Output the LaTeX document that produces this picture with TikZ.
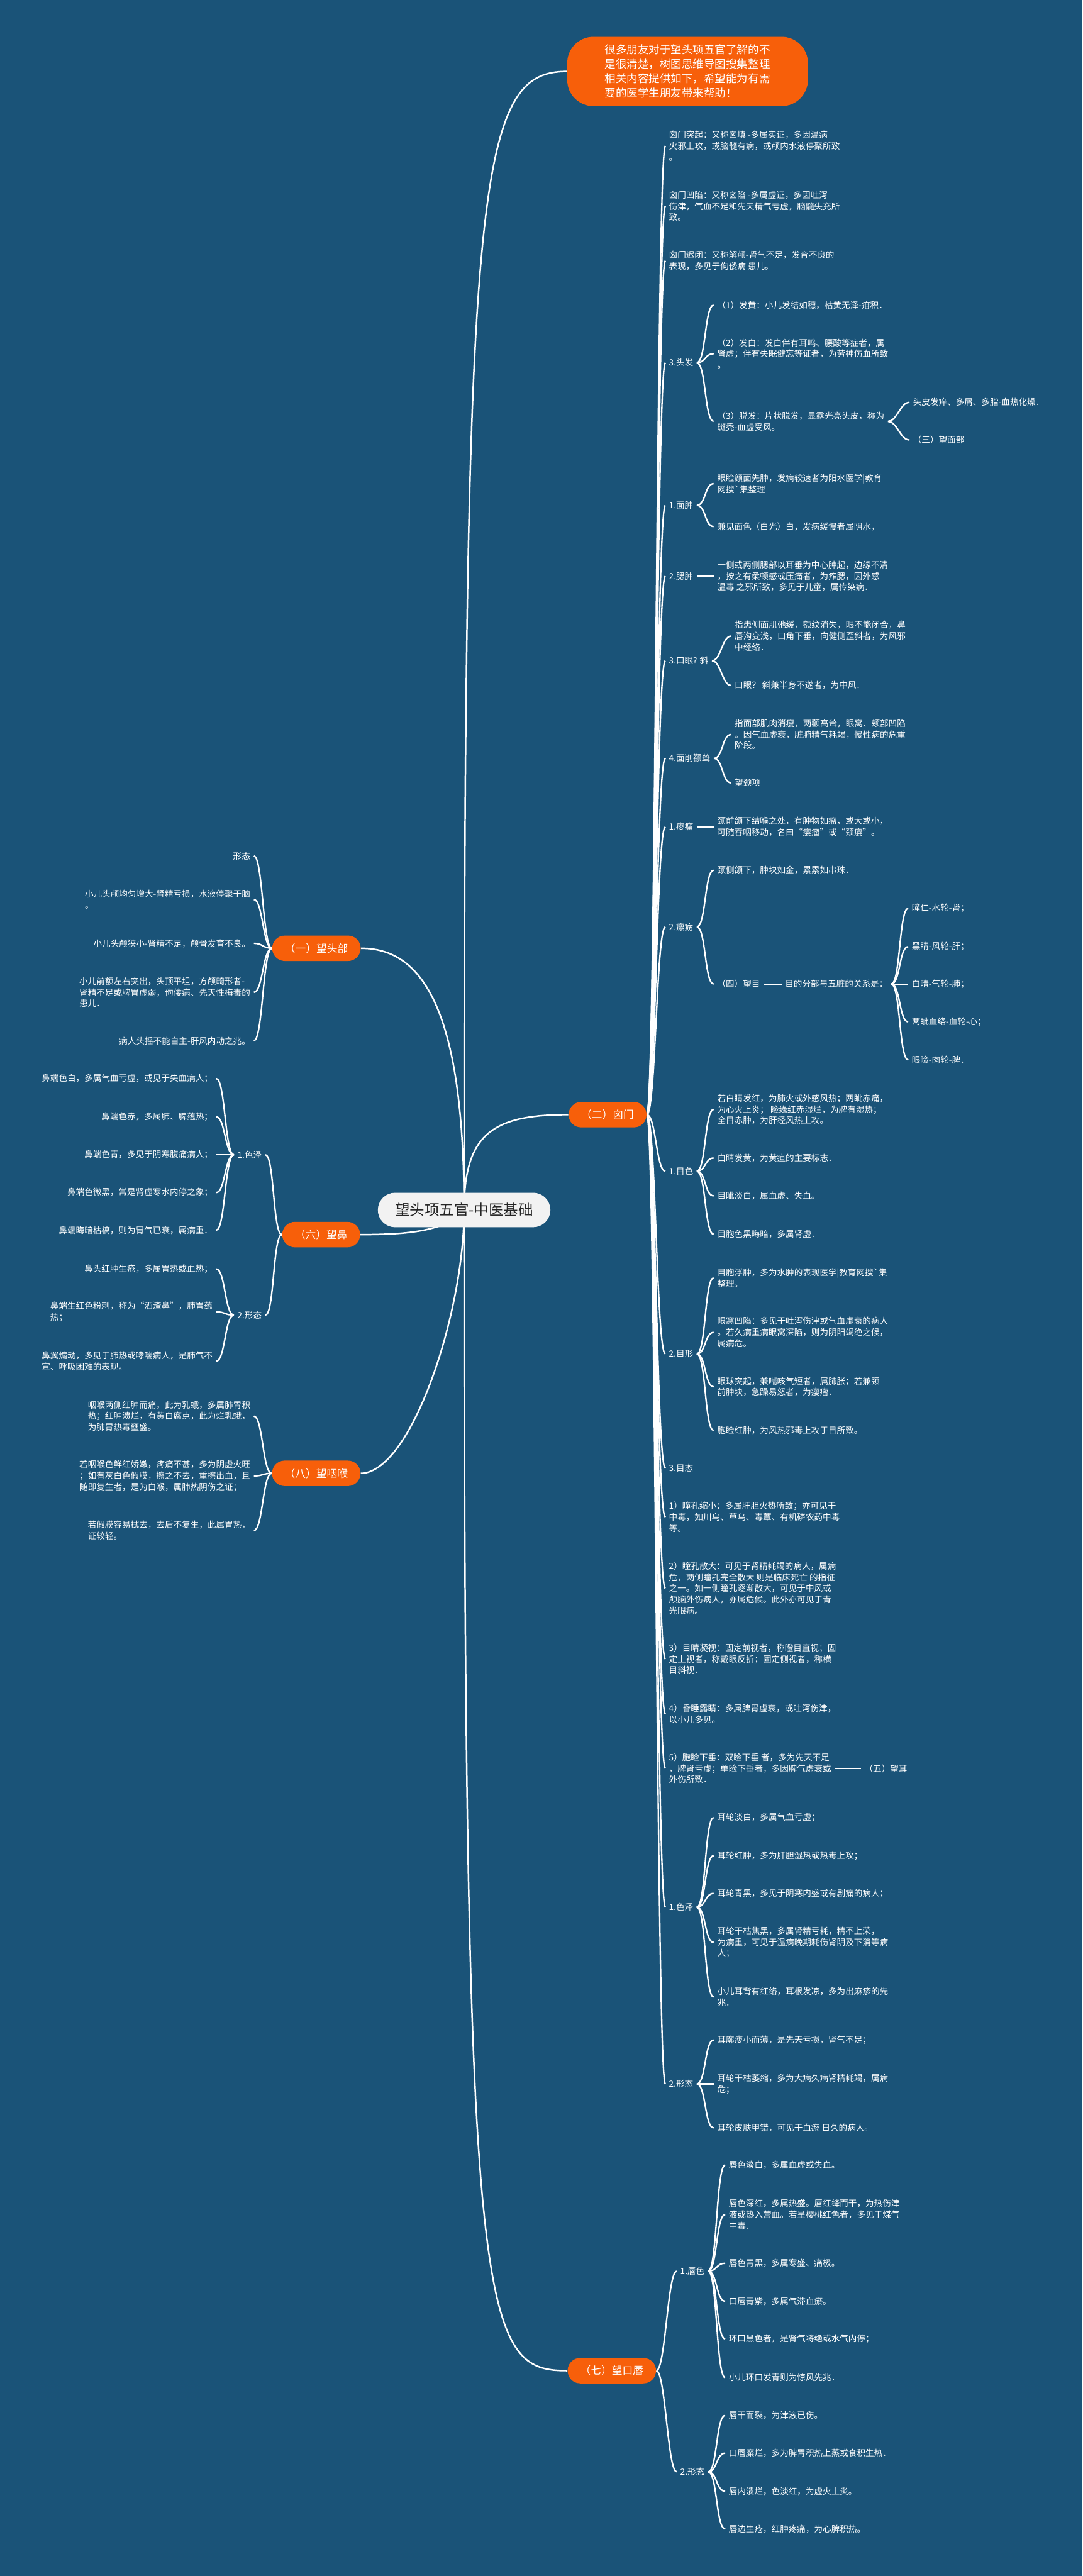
\documentclass[tikz,border=0pt]{standalone}
\usepackage{fontspec}
\newfontfamily\cjkf{Noto Sans CJK SC}
\definecolor{bgblue}{RGB}{26,83,120}
\definecolor{mmorange}{RGB}{247,95,10}
\definecolor{rootfill}{RGB}{242,242,242}
\definecolor{roottext}{RGB}{38,38,38}
\pgfdeclarelayer{bgl}
\pgfdeclarelayer{lines}
\pgfsetlayers{bgl,lines,main}
\tikzset{
  txt/.style={text=white, font=\cjkf\fontsize{5.2}{6.8}\selectfont, align=left, inner xsep=2pt, inner ysep=1pt},
  lt/.style={txt, anchor=west},
  rtx/.style={txt, anchor=east},
  topic/.style={fill=mmorange, text=white, rounded corners=7.7pt, minimum height=15.5pt, inner xsep=7.7pt, inner ysep=0pt, font=\cjkf\fontsize{6.4}{7.5}\selectfont},
  conn/.style={draw=white, line width=0.9pt},
  rconn/.style={draw=white, line width=0.95pt},
}
\newcommand\mmR[2]{\draw[conn] (#1.east) .. controls +(5.5,0) and +(-5.5,0) .. (#2.west);}
\newcommand\mmL[2]{\draw[conn] (#1.west) .. controls +(-5.5,0) and +(5.5,0) .. (#2.east);}
\newcommand\mmS[2]{\draw[conn] (#1.east) -- (#2.west);}
\begin{document}
\begin{tikzpicture}[x=1pt,y=-1pt]
\begin{pgfonlayer}{bgl}
\fill[bgblue] (0,0) rectangle (659,1568);
\end{pgfonlayer}
\useasboundingbox (0,0) rectangle (659,1568);

% root and main topics
\node[fill=rootfill, text=roottext, rounded corners=10.5pt, minimum width=105pt, minimum height=21pt, inner sep=0pt, font=\cjkf\fontsize{9}{10}\selectfont] (root) at (282.5,736.5) {望头项五官-中医基础};
\node[fill=mmorange, text=white, rounded corners=16pt, align=left, inner xsep=23pt, inner ysep=4pt, minimum height=42.2pt, font=\cjkf\fontsize{6.7}{8.85}\selectfont] (note) at (418.5,43.5) {很多朋友对于望头项五官了解的不\\是很清楚，树图思维导图搜集整理\\相关内容提供如下，希望能为有需\\要的医学生朋友带来帮助！};
\node[topic] (n1) at (192.6,577.2) {（一）望头部};
\node[topic] (n6) at (195.5,751.5) {（六）望鼻};
\node[topic] (n8) at (192.5,896.8) {（八）望咽喉};
\node[topic] (n2) at (369.8,678.5) {（二）囟门};
\node[topic] (n7) at (372.4,1443) {（七）望口唇};

% (二) children
\node[lt] (a1) at (405,88.8) {囟门突起：又称囟填 -多属实证，多因温病\\火邪上攻，或脑髓有病，或颅内水液停聚所致\\。};
\node[lt] (a2) at (405,125.5) {囟门凹陷：又称囟陷 -多属虚证，多因吐泻\\伤津，气血不足和先天精气亏虚，脑髓失充所\\致。};
\node[lt] (a3) at (405,158.7) {囟门迟闭：又称解颅-肾气不足，发育不良的\\表现，多见于佝偻病 患儿。};
\node[lt] (a4) at (405,220.8) {3.头发};
\node[lt] (a5) at (405,307.6) {1.面肿};
\node[lt] (a6) at (405,350.7) {2.腮肿};
\node[lt] (a7) at (405,402.2) {3.口眼? 斜};
\node[lt] (a8) at (405,461.6) {4.面削颧耸};
\node[lt] (a9) at (405,503.3) {1.瘿瘤};
\node[lt] (a10) at (405,564.2) {2.瘰疬};
\node[lt] (a11) at (405,712.9) {1.目色};
\node[lt] (a12) at (405,824.1) {2.目形};
\node[lt] (a13) at (405,893.7) {3.目态};
\node[lt] (a14) at (405,923.5) {1）瞳孔缩小：多属肝胆火热所致；亦可见于\\中毒，如川乌、草乌、毒蕈、有机磷农药中毒\\等。};
\node[lt] (a15) at (405,966.8) {2）瞳孔散大：可见于肾精耗竭的病人，属病\\危，两侧瞳孔完全散大 则是临床死亡 的指征\\之一。如一侧瞳孔逐渐散大，可见于中风或\\颅脑外伤病人，亦属危候。此外亦可见于青\\光眼病。};
\node[lt] (a16) at (405,1009.8) {3）目睛凝视：固定前视者，称瞪目直视；固\\定上视者，称戴眼反折；固定侧视者，称横\\目斜视．};
\node[lt] (a17) at (405,1043.2) {4）昏睡露睛：多属脾胃虚衰，或吐泻伤津，\\以小儿多见。};
\node[lt] (a18) at (405,1076.4) {5）胞睑下垂：双睑下垂 者，多为先天不足\\，脾肾亏虚；单睑下垂者，多因脾气虚衰或\\外伤所致．};
\node[lt] (a19) at (405,1160.9) {1.色泽};
\node[lt] (a20) at (405,1268.5) {2.形态};

% 3.头发
\node[lt] (b1) at (434.4,185.7) {（1）发黄：小儿发结如穗，枯黄无泽-疳积．};
\node[lt] (b2) at (434.4,215.3) {（2）发白：发白伴有耳鸣、腰酸等症者，属\\肾虚；伴有失眠健忘等证者，为劳神伤血所致\\。};
\node[lt] (b3) at (434.4,256.5) {（3）脱发：片状脱发，显露光亮头皮，称为\\斑秃-血虚受风。};
\node[lt] (c1) at (553.6,244.8) {头皮发痒、多屑、多脂-血热化燥．};
\node[lt] (c2) at (553.6,267.9) {（三）望面部};
% 1.面肿
\node[lt] (b4) at (434.4,294.4) {眼睑颜面先肿，发病较速者为阳水医学|教育\\网搜`集整理};
\node[lt] (b5) at (434.4,320.5) {兼见面色（白光）白，发病缓慢者属阴水，};
% 2.腮肿
\node[lt] (b6) at (434.4,350.7) {一侧或两侧腮部以耳垂为中心肿起，边缘不清\\，按之有柔顿感或压痛者，为痄腮，因外感\\温毒 之邪所致，多见于儿童，属传染病．};
% 3.口眼斜
\node[lt] (b7) at (445,387.2) {指患侧面肌弛缓，额纹消失，眼不能闭合，鼻\\唇沟变浅，口角下垂，向健侧歪斜者，为风邪\\中经络．};
\node[lt] (b8) at (445,417.2) {口眼？ 斜兼半身不遂者，为中风．};
% 4.面削颧耸
\node[lt] (b9) at (445,447.1) {指面部肌肉消瘦，两颧高耸，眼窝、颊部凹陷\\。因气血虚衰，脏腑精气耗竭，慢性病的危重\\阶段。};
\node[lt] (b10) at (445,476.5) {望颈项};
% 1.瘿瘤
\node[lt] (b11) at (434.4,503.3) {颈前颌下结喉之处，有肿物如瘤，或大或小，\\可随吞咽移动，名曰“瘿瘤”或“颈瘿”。};
% 2.瘰疬
\node[lt] (b12) at (434.4,529.7) {颈侧颌下，肿块如金，累累如串珠．};
\node[lt] (b13) at (434.4,599) {（四）望目};
\node[lt] (c3) at (475.7,599) {目的分部与五脏的关系是：};
\node[lt] (d1) at (552.8,552.9) {瞳仁-水轮-肾；};
\node[lt] (d2) at (552.8,576.2) {黑睛-风轮-肝；};
\node[lt] (d3) at (552.8,599) {白睛-气轮-肺；};
\node[lt] (d4) at (552.8,622) {两眦血络-血轮-心；};
\node[lt] (d5) at (552.8,645.2) {眼睑-肉轮-脾．};
% 1.目色
\node[lt] (b14) at (434.4,675.3) {若白睛发红，为肺火或外感风热；两眦赤痛，\\为心火上炎； 睑缘红赤湿烂，为脾有湿热；\\全目赤肿，为肝经风热上攻。};
\node[lt] (b15) at (434.4,704.9) {白睛发黄，为黄疸的主要标志．};
\node[lt] (b16) at (434.4,727.9) {目眦淡白，属血虚、失血。};
\node[lt] (b17) at (434.4,751.3) {目胞色黑晦暗，多属肾虚．};
% 2.目形
\node[lt] (b18) at (434.4,777.8) {目胞浮肿，多为水肿的表现医学|教育网搜`集\\整理。};
\node[lt] (b19) at (434.4,811) {眼窝凹陷：多见于吐泻伤津或气血虚衰的病人\\。若久病重病眼窝深陷，则为阴阳竭绝之候，\\属病危。};
\node[lt] (b20) at (434.4,844.1) {眼球突起，兼喘咳气短者，属肺胀；若兼颈\\前肿块，急躁易怒者，为瘿瘤．};
\node[lt] (b21) at (434.4,870.7) {胞睑红肿，为风热邪毒上攻于目所致。};
% (五)望耳
\node[lt] (c4) at (524,1076.4) {（五）望耳};
\node[lt] (b22) at (434.4,1106.3) {耳轮淡白，多属气血亏虚；};
\node[lt] (b23) at (434.4,1129.5) {耳轮红肿，多为肝胆湿热或热毒上攻；};
\node[lt] (b24) at (434.4,1152.5) {耳轮青黑，多见于阴寒内盛或有剧痛的病人；};
\node[lt] (b25) at (434.4,1182.3) {耳轮干枯焦黑，多属肾精亏耗，精不上荣，\\为病重，可见于温病晚期耗伤肾阴及下消等病\\人；};
\node[lt] (b26) at (434.4,1215.6) {小儿耳背有红络，耳根发凉，多为出麻疹的先\\兆．};
\node[lt] (b27) at (434.4,1241.7) {耳廓瘦小而薄，是先天亏损，肾气不足；};
\node[lt] (b28) at (434.4,1268.5) {耳轮干枯萎缩，多为大病久病肾精耗竭，属病\\危；};
\node[lt] (b29) at (434.4,1295.2) {耳轮皮肤甲错，可见于血瘀 日久的病人。};

% (七) 望口唇
\node[lt] (e1) at (411.9,1382.4) {1.唇色};
\node[lt] (e2) at (411.9,1504.6) {2.形态};
\node[lt] (f1) at (441.4,1317.8) {唇色淡白，多属血虚或失血。};
\node[lt] (f2) at (441.4,1347.9) {唇色深红，多属热盛。唇红绛而干，为热伤津\\液或热入营血。若呈樱桃红色者，多见于煤气\\中毒．};
\node[lt] (f3) at (441.4,1377.6) {唇色青黑，多属寒盛、痛极。};
\node[lt] (f4) at (441.4,1400.7) {口唇青紫，多属气滞血瘀。};
\node[lt] (f5) at (441.4,1423.7) {环口黑色者，是肾气将绝或水气内停；};
\node[lt] (f6) at (441.4,1447.2) {小儿环口发青则为惊风先兆．};
\node[lt] (f7) at (441.4,1470.2) {唇干而裂，为津液已伤。};
\node[lt] (f8) at (441.4,1493.2) {口唇糜烂，多为脾胃积热上蒸或食积生热．};
\node[lt] (f9) at (441.4,1516.4) {唇内溃烂，色淡红，为虚火上炎。};
\node[lt] (f10) at (441.4,1539.4) {唇边生疮，红肿疼痛，为心脾积热。};

% (一) 望头部
\node[rtx] (g1) at (154.5,521) {形态};
\node[rtx] (g2) at (154.5,547.5) {小儿头颅均匀增大-肾精亏损，水液停聚于脑\\。};
\node[rtx] (g3) at (154.5,574.2) {小儿头颅狭小-肾精不足，颅骨发育不良。};
\node[rtx] (g4) at (154.5,604) {小儿前额左右突出，头顶平坦，方颅畸形者-\\肾精不足或脾胃虚弱，佝偻病、先天性梅毒的\\患儿．};
\node[rtx] (g5) at (154.5,633.5) {病人头摇不能自主-肝风内动之兆。};

% (六) 望鼻
\node[rtx] (h1) at (161.5,702.9) {1.色泽};
\node[rtx] (h2) at (161.5,800.5) {2.形态};
\node[rtx] (i1) at (131.6,656.5) {鼻端色白，多属气血亏虚，或见于失血病人；};
\node[rtx] (i2) at (131.6,679.8) {鼻端色赤，多属肺、脾蕴热；};
\node[rtx] (i3) at (131.6,702.9) {鼻端色青，多见于阴寒腹痛病人；};
\node[rtx] (i4) at (131.6,725.9) {鼻端色微黑，常是肾虚寒水内停之象；};
\node[rtx] (i5) at (131.6,748.8) {鼻端晦暗枯槁，则为胃气已衰，属病重．};
\node[rtx] (i6) at (131.6,772.4) {鼻头红肿生疮，多属胃热或血热；};
\node[rtx] (i7) at (131.6,798.5) {鼻端生红色粉刺，称为“酒渣鼻”，肺胃蕴\\热；};
\node[rtx] (i8) at (131.6,828.5) {鼻翼煽动，多见于肺热或哮喘病人，是肺气不\\宣、呼吸困难的表现。};

% (八) 望咽喉
\node[rtx] (j1) at (154.5,862) {咽喉两侧红肿而痛，此为乳蛾，多属肺胃积\\热；红肿溃烂，有黄白腐点，此为烂乳蛾，\\为肺胃热毒壅盛。};
\node[rtx] (j2) at (154.5,898.4) {若咽喉色鲜红娇嫩，疼痛不甚，多为阴虚火旺\\；如有灰白色假膜，擦之不去，重擦出血，且\\随即复生者，是为白喉，属肺热阴伤之证；};
\node[rtx] (j3) at (154.5,931.6) {若假膜容易拭去，去后不复生，此属胃热，\\证较轻。};

\begin{pgfonlayer}{lines}
% root-level curves
\draw[rconn] (root.center) .. controls (282.5,110) and (290,43.5) .. (note.west);
\draw[rconn] (root.center) .. controls (282.5,690) and (300,678.5) .. (n2.west);
\draw[rconn] (n1.east) .. controls (255,577.2) and (282.5,610) .. (root.center);
\draw[rconn] (n6.east) .. controls (250,751.5) and (272,749) .. (root.center);
\draw[rconn] (n8.east) .. controls (250,896.8) and (282.5,800) .. (root.center);
\draw[rconn] (root.center) .. controls (282.5,1415) and (293,1443) .. (n7.west);
% (二)
\foreach \c in {a1,a2,a3,a4,a5,a6,a7,a8,a9,a10,a11,a12,a13,a14,a15,a16,a17,a18,a19,a20} {\mmR{n2}{\c}}
\foreach \c in {b1,b2,b3} {\mmR{a4}{\c}}
\foreach \c in {c1,c2} {\mmR{b3}{\c}}
\foreach \c in {b4,b5} {\mmR{a5}{\c}}
\mmS{a6}{b6}
\foreach \c in {b7,b8} {\mmR{a7}{\c}}
\foreach \c in {b9,b10} {\mmR{a8}{\c}}
\mmS{a9}{b11}
\foreach \c in {b12,b13} {\mmR{a10}{\c}}
\mmS{b13}{c3}
\foreach \c in {d1,d2,d3,d4,d5} {\mmR{c3}{\c}}
\foreach \c in {b14,b15,b16,b17} {\mmR{a11}{\c}}
\foreach \c in {b18,b19,b20,b21} {\mmR{a12}{\c}}
\mmS{a18}{c4}
\foreach \c in {b22,b23,b24,b25,b26} {\mmR{a19}{\c}}
\foreach \c in {b27,b28,b29} {\mmR{a20}{\c}}
% (七)
\foreach \c in {e1,e2} {\mmR{n7}{\c}}
\foreach \c in {f1,f2,f3,f4,f5,f6} {\mmR{e1}{\c}}
\foreach \c in {f7,f8,f9,f10} {\mmR{e2}{\c}}
% left side
\foreach \c in {g1,g2,g3,g4,g5} {\mmL{n1}{\c}}
\foreach \c in {h1,h2} {\mmL{n6}{\c}}
\foreach \c in {i1,i2,i3,i4,i5} {\mmL{h1}{\c}}
\foreach \c in {i6,i7,i8} {\mmL{h2}{\c}}
\foreach \c in {j1,j2,j3} {\mmL{n8}{\c}}
\end{pgfonlayer}
\end{tikzpicture}
\end{document}
